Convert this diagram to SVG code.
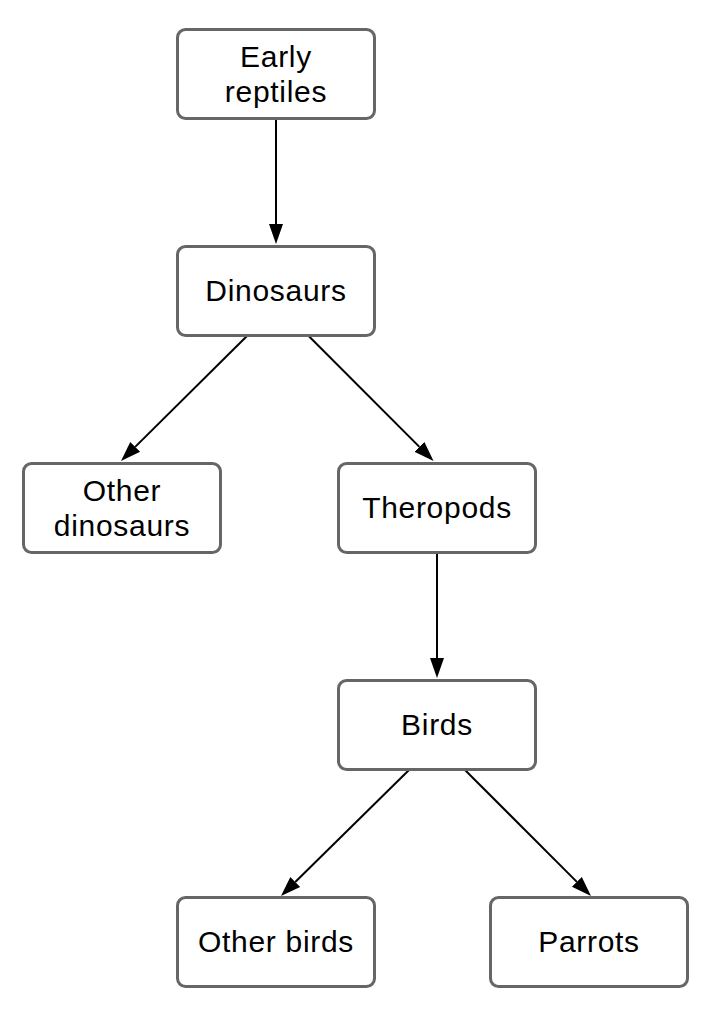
<svg xmlns="http://www.w3.org/2000/svg" width="714" height="1020" viewBox="0 0 714 1020">
  <style>
    .box { fill: #ffffff; stroke: #666666; stroke-width: 3; }
    .lbl { font-family: "Liberation Sans", Arial, Helvetica, sans-serif; font-size: 30px; letter-spacing: 0.7px; fill: #000000; text-anchor: middle; }
    .edge { stroke: #000000; stroke-width: 2; fill: none; marker-end: url(#arrow); }
  </style>
  <defs>
    <marker id="arrow" markerUnits="userSpaceOnUse" markerWidth="22" markerHeight="16" refX="0" refY="7" orient="auto" viewBox="0 0 22 14">
      <path d="M0,0 L20,7 L0,14 Z" fill="#000000"/>
    </marker>
  </defs>
  <rect width="714" height="1020" fill="#ffffff"/>
  <g id="connectors">
    <line class="edge" x1="276" y1="119.5" x2="276" y2="224"/>
    <line class="edge" x1="248" y1="335" x2="135.2" y2="446.9"/>
    <line class="edge" x1="307.7" y1="335" x2="419.4" y2="446.85"/>
    <line class="edge" x1="437" y1="553" x2="437" y2="658"/>
    <line class="edge" x1="409" y1="770" x2="295.25" y2="881.97"/>
    <line class="edge" x1="465" y1="770" x2="576.86" y2="881.86"/>
  </g>
  <g id="early-reptiles">
    <rect class="box" x="177.5" y="29.5" width="197" height="89" rx="8"/>
    <text class="lbl" x="276" y="67">Early</text>
    <text class="lbl" x="276" y="102">reptiles</text>
  </g>
  <g id="dinosaurs">
    <rect class="box" x="177.5" y="246.5" width="197" height="89" rx="8"/>
    <text class="lbl" x="276" y="301.2">Dinosaurs</text>
  </g>
  <g id="other-dinosaurs">
    <rect class="box" x="23.5" y="463.5" width="197" height="89" rx="8"/>
    <text class="lbl" x="122" y="501">Other</text>
    <text class="lbl" x="122" y="536">dinosaurs</text>
  </g>
  <g id="theropods">
    <rect class="box" x="338.5" y="463.5" width="197" height="89" rx="8"/>
    <text class="lbl" x="437" y="518.2">Theropods</text>
  </g>
  <g id="birds">
    <rect class="box" x="338.5" y="680.5" width="197" height="89" rx="8"/>
    <text class="lbl" x="437" y="735.2">Birds</text>
  </g>
  <g id="other-birds">
    <rect class="box" x="177.5" y="897.5" width="197" height="89" rx="8"/>
    <text class="lbl" x="276" y="952.2">Other birds</text>
  </g>
  <g id="parrots">
    <rect class="box" x="490.5" y="897.5" width="197" height="89" rx="8"/>
    <text class="lbl" x="589" y="952.2">Parrots</text>
  </g>
</svg>
